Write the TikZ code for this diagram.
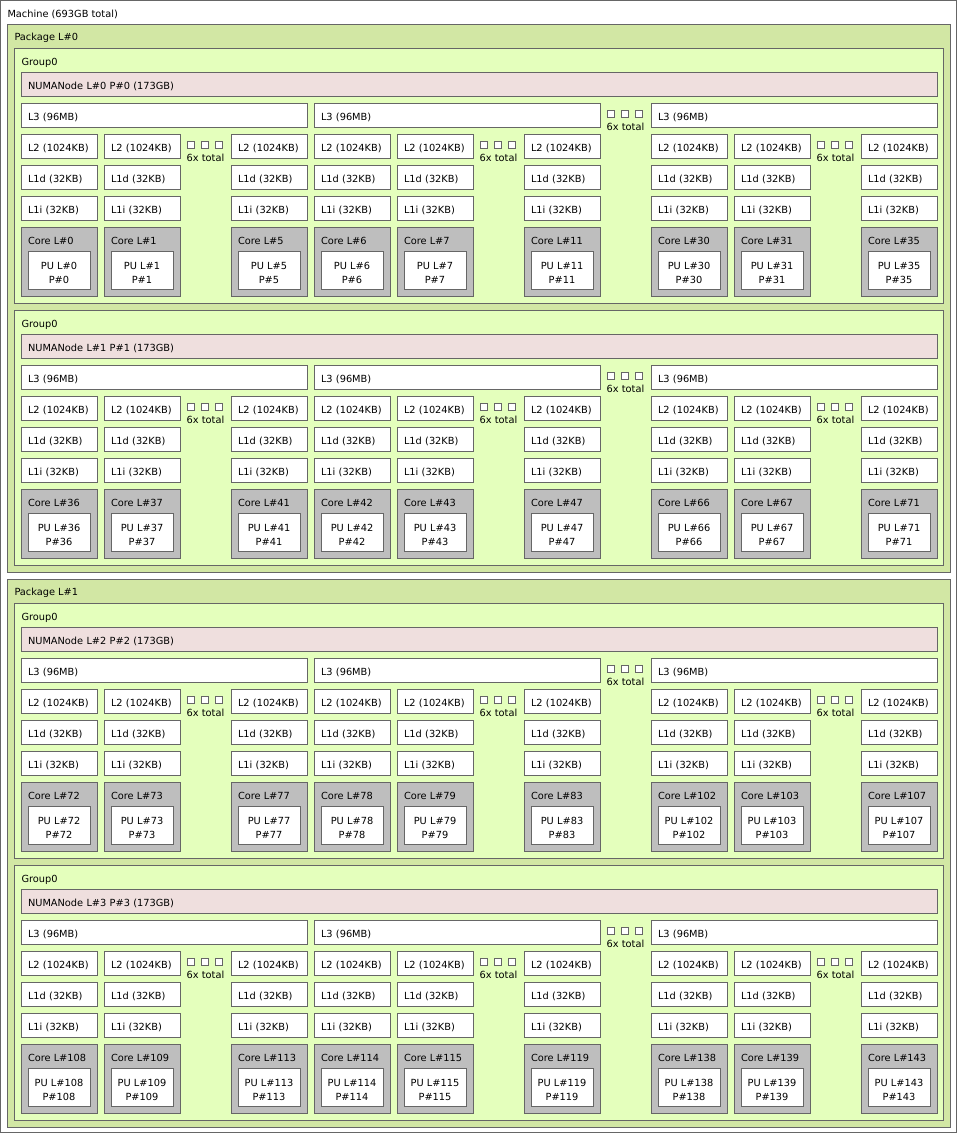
\documentclass[tikz,border=0pt]{standalone}
\usepackage{fontspec}
\setmainfont{DejaVu Sans}
\usetikzlibrary{positioning}

\definecolor{edge}{HTML}{666666}
\definecolor{pkgfill}{HTML}{D2E7A4}
\definecolor{grpfill}{HTML}{E4FFBC}
\definecolor{numafill}{HTML}{EFDFDE}
\definecolor{corefill}{HTML}{BEBEBE}

\tikzset{
  every node/.style={font=\fontsize{9.8}{13.7}\selectfont, inner sep=0pt, outer sep=0pt},
  box/.style={draw=edge, line width=1pt, anchor=north west},
  cache/.style={box, fill=white, minimum height=24pt, text width=#1, inner xsep=7pt, align=left,
    text height=11pt, text depth=0pt},
  corebox/.style={box, fill=corefill, minimum width=76pt, minimum height=69pt},
  pubox/.style={box, fill=white, minimum height=38pt, text width=62pt, align=center,
    text height=13pt, text depth=13.7pt},
  title/.style={anchor=base west},
  dotbox/.style={draw=edge, line width=1pt, fill=white, minimum size=7pt},
  total/.style={anchor=base}
}

% one group: #1 name, #2 top, #3 NUMA index, #4 first core
\newcommand{\numagroup}[4]{
  \node[box, fill=grpfill, minimum width=929pt, minimum height=255pt] (#1) at (14.5,#2) {};
  \node[title] (#1t) at ([xshift=7pt,yshift=-17.5pt]#1.north west) {Group0};
  \node[cache=902pt, fill=numafill] (#1n) at (21,#2+24) {NUMANode L\##3 P\##3 (173GB)};
  \foreach \k/\lx/\off in {0/21/0, 1/314/6, 2/651/30} {
    \node[cache=272pt] (#1l\k) at (\lx,#2+55) {L3 (96MB)};
    \foreach \j/\dx/\dc in {0/0/0, 1/83/1, 2/210/5} {
      \pgfmathtruncatemacro{\cn}{#4+\off+\dc}
      \node[cache=62pt] (#1a\k\j) at (\lx+\dx,#2+86) {L2 (1024KB)};
      \node[cache=62pt] (#1b\k\j) at (\lx+\dx,#2+117) {L1d (32KB)};
      \node[cache=62pt] (#1i\k\j) at (\lx+\dx,#2+148) {L1i (32KB)};
      \node[corebox] (#1c\k\j) at (\lx+\dx,#2+179) {};
      \node[title] (#1t\k\j) at ([xshift=7pt,yshift=-17pt]#1c\k\j.north west) {Core L\#\cn};
      \node[pubox] (#1p\k\j) at ([xshift=7pt,yshift=-24pt]#1c\k\j.north west) {PU L\#\cn\\P\#\cn};
    }
    % hidden L2s
    \foreach \s in {-14,0,14}
      \node[dotbox] (#1d\k\s) at (\lx+183.5+\s,#2+96.5) {};
    \node[total] (#1x\k) at (\lx+184.5,#2+113.7) {6x total};
  }
  % hidden L3s
  \foreach \s in {-14,0,14}
    \node[dotbox] (#1e\s) at (625+\s,#2+65.5) {};
  \node[total] (#1y) at (625.5,#2+82) {6x total};
}

\begin{document}
\begin{tikzpicture}[x=1pt, y=-1pt]
  \useasboundingbox (0,0) rectangle (957,1133);

  \node[box, fill=white, minimum width=956pt, minimum height=1132pt] (machine) at (0.5,0.5) {};
  \node[title] (machinet) at ([xshift=7pt,yshift=-17pt]machine.north west) {Machine (693GB total)};

  \node[box, fill=pkgfill, minimum width=943pt, minimum height=548pt] (pkg0) at (7.5,24) {};
  \node[title] (pkg0t) at ([xshift=7pt,yshift=-16.7pt]pkg0.north west) {Package L\#0};
  \numagroup{g0}{48}{0}{0}
  \numagroup{g1}{310}{1}{36}

  \node[box, fill=pkgfill, minimum width=943pt, minimum height=548pt] (pkg1) at (7.5,579) {};
  \node[title] (pkg1t) at ([xshift=7pt,yshift=-16.7pt]pkg1.north west) {Package L\#1};
  \numagroup{g2}{603}{2}{72}
  \numagroup{g3}{865}{3}{108}

\end{tikzpicture}
\end{document}
